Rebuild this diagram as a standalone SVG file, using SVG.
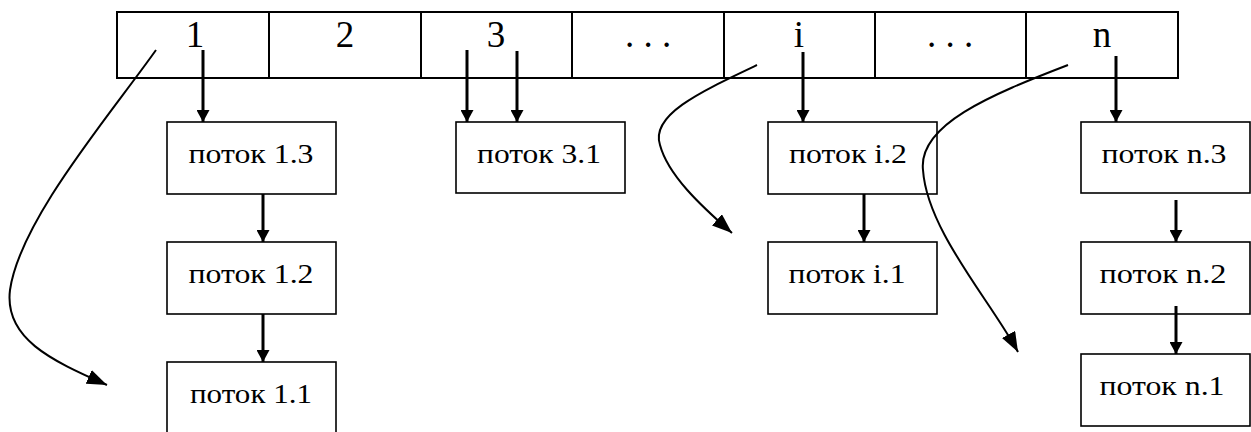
<svg xmlns="http://www.w3.org/2000/svg" width="1251" height="432" viewBox="0 0 1251 432">
  <defs>
    <marker id="head" viewBox="0 0 10 10" refX="10" refY="5" markerWidth="12" markerHeight="13" preserveAspectRatio="none" markerUnits="userSpaceOnUse" orient="auto">
      <path d="M0,0 L10,5 L0,10 Z" fill="#000"/>
    </marker>
    <marker id="head-big" viewBox="0 0 10 10" refX="10" refY="5" markerWidth="20" markerHeight="15" preserveAspectRatio="none" markerUnits="userSpaceOnUse" orient="auto">
      <path d="M0,0 L10,5 L0,10 Z" fill="#000"/>
    </marker>
  </defs>
  <style>
    .cell { fill: #fff; stroke: #000; stroke-width: 2; }
    .box { fill: #fff; stroke: #000; stroke-width: 1.6; }
    .idx { font-family: "Liberation Serif", "DejaVu Serif", serif; font-size: 37px; text-anchor: middle; fill: #000; }
    .lbl { font-family: "Liberation Serif", "DejaVu Serif", serif; font-size: 27px; text-anchor: middle; fill: #000; }
    .link { fill: none; stroke: #000; stroke-width: 3; marker-end: url(#head); }
    .jump { fill: none; stroke: #000; stroke-width: 2; marker-end: url(#head-big); }
  </style>

  <!-- array of slots -->
  <g id="array">
    <rect class="cell" x="117" y="12" width="1061" height="66"/>
    <path d="M269,12 V78 M421,12 V78 M572,12 V78 M724,12 V78 M875,12 V78 M1026,12 V78" stroke="#000" stroke-width="2" fill="none"/>
    <text class="idx" x="195" y="47">1</text>
    <text class="idx" x="345" y="47">2</text>
    <text class="idx" x="496" y="47">3</text>
    <text class="idx" x="648" y="47">. . .</text>
    <text class="idx" x="799" y="47">i</text>
    <text class="idx" x="950" y="47">. . .</text>
    <text class="idx" x="1102" y="47">n</text>
  </g>

  <!-- thread nodes -->
  <g id="t13"><rect class="box" x="167" y="122" width="169" height="72"/><text class="lbl" x="251" y="163" textLength="125" lengthAdjust="spacingAndGlyphs">поток 1.3</text></g>
  <g id="t12"><rect class="box" x="167" y="242" width="169" height="72"/><text class="lbl" x="251" y="283" textLength="125" lengthAdjust="spacingAndGlyphs">поток 1.2</text></g>
  <g id="t11"><rect class="box" x="167" y="362" width="169" height="72"/><text class="lbl" x="251" y="403" textLength="122" lengthAdjust="spacingAndGlyphs">поток 1.1</text></g>
  <g id="t31"><rect class="box" x="456" y="122" width="169" height="71"/><text class="lbl" x="539" y="163" textLength="124" lengthAdjust="spacingAndGlyphs">поток 3.1</text></g>
  <g id="ti2"><rect class="box" x="768" y="122" width="169" height="72"/><text class="lbl" x="848" y="163" textLength="118" lengthAdjust="spacingAndGlyphs">поток i.2</text></g>
  <g id="ti1"><rect class="box" x="768" y="242" width="169" height="72"/><text class="lbl" x="847" y="283" textLength="117" lengthAdjust="spacingAndGlyphs">поток i.1</text></g>
  <g id="tn3"><rect class="box" x="1081" y="122" width="169" height="71"/><text class="lbl" x="1164" y="163" textLength="125" lengthAdjust="spacingAndGlyphs">поток n.3</text></g>
  <g id="tn2"><rect class="box" x="1081" y="242" width="169" height="72"/><text class="lbl" x="1163" y="283" textLength="127" lengthAdjust="spacingAndGlyphs">поток n.2</text></g>
  <g id="tn1"><rect class="box" x="1081" y="354" width="169" height="72"/><text class="lbl" x="1162" y="395" textLength="125" lengthAdjust="spacingAndGlyphs">поток n.1</text></g>

  <!-- connectors -->
  <g id="connectors">
    <path class="link" d="M203,50 V122"/>
    <path class="link" d="M263,194 V242"/>
    <path class="link" d="M263,314 V362"/>
    <path class="link" d="M467,50 V122"/>
    <path class="link" d="M517,51 V122"/>
    <path class="link" d="M803,52 V122"/>
    <path class="link" d="M864,194 V242"/>
    <path class="link" d="M1116,56 V122"/>
    <path class="link" d="M1176,200 V242"/>
    <path class="link" d="M1176,306 V354"/>
    <path class="jump" d="M156,50 C110,115 20,220 10,290 C4,338 50,360 107,385"/>
    <path class="jump" d="M757,65 C700,92 650,115 660,145 C668,175 700,205 732,233"/>
    <path class="jump" d="M1068,65 C990,95 918,125 923,170 C927,230 990,300 1018,352"/>
  </g>
</svg>
